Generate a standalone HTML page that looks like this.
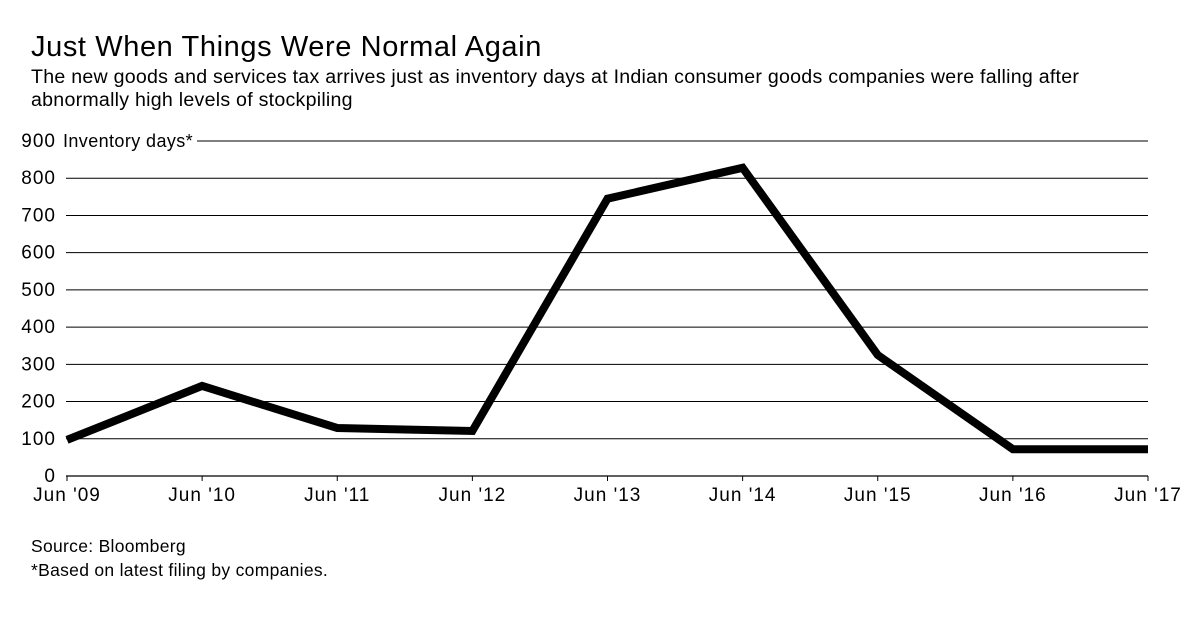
<!DOCTYPE html>
<html><head><meta charset="utf-8"><style>
body{margin:0;background:#fff;font-family:"Liberation Sans",sans-serif;}
</style></head><body>
<svg width="1200" height="613" xmlns="http://www.w3.org/2000/svg" font-family="Liberation Sans, sans-serif">
<text x="31" y="56" font-size="29" letter-spacing="0.6" fill="#000">Just When Things Were Normal Again</text>
<text x="31" y="83" font-size="19.6" letter-spacing="0.25" fill="#000">The new goods and services tax arrives just as inventory days at Indian consumer goods companies were falling after</text>
<text x="31" y="106" font-size="19.6" letter-spacing="0.25" fill="#000">abnormally high levels of stockpiling</text>
<g id="grid"></g>
<g id="xaxis"></g>
<polyline id="line" fill="none" stroke="#000" stroke-width="8" stroke-linejoin="miter"/>
<text x="31" y="552" font-size="17.5" letter-spacing="0.3">Source: Bloomberg</text>
<text x="31" y="576" font-size="17.5" letter-spacing="0.3">*Based on latest filing by companies.</text>
</svg>
<script>
const categories=["Jun '09","Jun '10","Jun '11","Jun '12","Jun '13","Jun '14","Jun '15","Jun '16","Jun '17"];
const values=[97,242,129,121,745,828,325,72,72];
const yTicks=[0,100,200,300,400,500,600,700,800,900];
const NS="http://www.w3.org/2000/svg";
const x0=67,x1=1148,y0=476,y900=141;
const xs=i=>x0+(x1-x0)*i/(categories.length-1);
const ys=v=>y0-(y0-y900)*v/900;
const grid=document.getElementById('grid'),xa=document.getElementById('xaxis');
function mk(tag,attrs,parent,txt){const e=document.createElementNS(NS,tag);for(const k in attrs)e.setAttribute(k,attrs[k]);if(txt!==undefined)e.textContent=txt;parent.appendChild(e);return e;}
yTicks.forEach(v=>{
 const y=ys(v);
 const l=mk('line',{x1:v===900?197:x0-1,x2:x1,y1:y,y2:y,stroke:'#000','stroke-width':v===0?1.3:1},grid);
 
 
 const t=mk('text',{x:56,y:y+6,'font-size':19,'letter-spacing':1,'text-anchor':'end'},grid,String(v));
 
 
});
const yl=mk('text',{x:63,y:ys(900)+6,'font-size':18,'letter-spacing':0.4},grid,'Inventory days*');


categories.forEach((c,i)=>{
 const x=xs(i);
 const tk=mk('line',{x1:x,x2:x,y1:y0,y2:y0+5,stroke:'#000','stroke-width':1},xa);
 
 
 const t=mk('text',{x:x,y:y0+25,'font-size':19,'letter-spacing':1,'text-anchor':'middle'},xa,c);
 
 
});
document.getElementById('line').setAttribute('points',values.map((v,i)=>xs(i)+','+ys(v)).join(' '));
</script>
</body></html>
